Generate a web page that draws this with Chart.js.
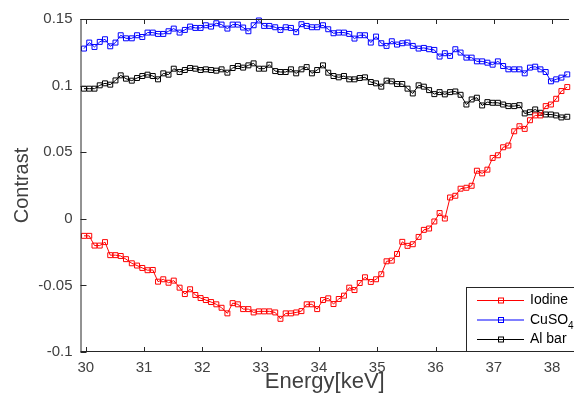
<!DOCTYPE html>
<html>
<head>
<meta charset="utf-8">
<script src="https://cdn.jsdelivr.net/npm/chart.js@4.4.1/dist/chart.umd.min.js"></script>
<style>
  body { margin: 0; background: #fff; }
  #wrap { width: 574px; height: 393px; }
</style>
</head>
<body>
<div id="wrap"><canvas id="contrastChart" width="574" height="393"></canvas></div>
<script>
// energies in keV
const energies = [
  29.97, 30.06, 30.15, 30.24, 30.33, 30.42, 30.51, 30.60, 30.69, 30.79,
  30.88, 30.97, 31.06, 31.15, 31.24, 31.33, 31.42, 31.51, 31.61, 31.70,
  31.79, 31.88, 31.97, 32.06, 32.15, 32.24, 32.33, 32.43, 32.52, 32.61,
  32.70, 32.79, 32.88, 32.97, 33.06, 33.15, 33.25, 33.34, 33.43, 33.52,
  33.61, 33.70, 33.79, 33.88, 33.97, 34.07, 34.16, 34.25, 34.34, 34.43,
  34.52, 34.61, 34.70, 34.79, 34.89, 34.98, 35.07, 35.16, 35.25, 35.34,
  35.43, 35.52, 35.61, 35.71, 35.80, 35.89, 35.98, 36.07, 36.16, 36.25,
  36.34, 36.43, 36.53, 36.62, 36.71, 36.80, 36.89, 36.98, 37.07, 37.16,
  37.25, 37.35, 37.44, 37.53, 37.62, 37.71, 37.80, 37.89, 37.98, 38.07,
  38.16, 38.26
];

const iodine = [
  -0.0128, -0.0128, -0.0201, -0.0201, -0.0175, -0.0273, -0.0273, -0.0279, -0.0303, -0.0334,
  -0.0351, -0.0369, -0.0386, -0.0384, -0.0472, -0.0454, -0.0480, -0.0464, -0.0517, -0.0565,
  -0.0529, -0.0572, -0.0595, -0.0610, -0.0625, -0.0642, -0.0668, -0.0710, -0.0633, -0.0642,
  -0.0678, -0.0678, -0.0703, -0.0695, -0.0695, -0.0695, -0.0703, -0.0751, -0.0710, -0.0710,
  -0.0703, -0.0693, -0.0642, -0.0642, -0.0678, -0.0610, -0.0597, -0.0640, -0.0602, -0.0577,
  -0.0517, -0.0535, -0.0482, -0.0439, -0.0474, -0.0454, -0.0416, -0.0319, -0.0314, -0.0264,
  -0.0173, -0.0203, -0.0191, -0.0136, -0.0083, -0.0073, -0.0020, 0.0043, 0.0002, 0.0160,
  0.0173, 0.0226, 0.0233, 0.0248, 0.0361, 0.0341, 0.0369, 0.0457, 0.0477, 0.0537,
  0.0550, 0.0657, 0.0695, 0.0675, 0.0740, 0.0776, 0.0776, 0.0846, 0.0858, 0.0901,
  0.0959, 0.0989
];

const cuso4 = [
  0.1278, 0.1323, 0.1290, 0.1328, 0.1348, 0.1295, 0.1323, 0.1378, 0.1355, 0.1355,
  0.1378, 0.1365, 0.1398, 0.1398, 0.1388, 0.1388, 0.1408, 0.1428, 0.1398, 0.1418,
  0.1443, 0.1433, 0.1433, 0.1453, 0.1443, 0.1468, 0.1458, 0.1428, 0.1458, 0.1458,
  0.1436, 0.1408, 0.1453, 0.1489, 0.1448, 0.1448, 0.1438, 0.1418, 0.1438, 0.1433,
  0.1401, 0.1461, 0.1448, 0.1438, 0.1438, 0.1453, 0.1423, 0.1393, 0.1398, 0.1398,
  0.1388, 0.1353, 0.1378, 0.1378, 0.1323, 0.1368, 0.1318, 0.1298, 0.1333, 0.1308,
  0.1318, 0.1323, 0.1298, 0.1278, 0.1283, 0.1273, 0.1268, 0.1218, 0.1243, 0.1223,
  0.1273, 0.1248, 0.1210, 0.1210, 0.1182, 0.1182, 0.1172, 0.1157, 0.1182, 0.1147,
  0.1122, 0.1122, 0.1122, 0.1092, 0.1135, 0.1142, 0.1122, 0.1102, 0.1032, 0.1047,
  0.1060, 0.1084
];

const alBar = [
  0.0977, 0.0977, 0.0977, 0.1002, 0.1017, 0.1007, 0.1039, 0.1077, 0.1052, 0.1037,
  0.1057, 0.1072, 0.1082, 0.1072, 0.1047, 0.1092, 0.1082, 0.1127, 0.1102, 0.1117,
  0.1132, 0.1127, 0.1117, 0.1122, 0.1117, 0.1112, 0.1122, 0.1097, 0.1132, 0.1147,
  0.1135, 0.1152, 0.1167, 0.1127, 0.1127, 0.1157, 0.1109, 0.1102, 0.1102, 0.1122,
  0.1092, 0.1122, 0.1139, 0.1092, 0.1117, 0.1152, 0.1097, 0.1072, 0.1062, 0.1072,
  0.1047, 0.1047, 0.1057, 0.1062, 0.1027, 0.1017, 0.0992, 0.1037, 0.1032, 0.1012,
  0.1012, 0.0977, 0.0941, 0.1002, 0.0992, 0.0966, 0.0936, 0.0951, 0.0934, 0.0951,
  0.0956, 0.0931, 0.0858, 0.0896, 0.0909, 0.0851, 0.0876, 0.0871, 0.0871, 0.0858,
  0.0846, 0.0846, 0.0853, 0.0791, 0.0800, 0.0821, 0.0796, 0.0783, 0.0783, 0.0776,
  0.0761, 0.0766
];

const seriesNames = ['Iodine', 'CuSO4', 'Al bar'];
const xTickValues = [30, 31, 32, 33, 34, 35, 36, 37, 38];
const xTickLabels = ['30', '31', '32', '33', '34', '35', '36', '37', '38'];
const yTickValues = [-0.1, -0.05, 0, 0.05, 0.1, 0.15];
const yTickLabels = ['-0.1', '-0.05', '0', '0.05', '0.1', '0.15'];

const FONT = '"Liberation Sans", Arial, Helvetica, sans-serif';
const AXIS = '#262626';
const TEXT = '#404040';

function toPoints(values) {
    return energies.map((e, i) => ({ x: e, y: values[i] }));
}

function makeSeries(label, values, color) {
    return {
        label: label,
        data: toPoints(values),
        borderColor: color,
        backgroundColor: 'rgba(0,0,0,0)',
        borderWidth: 1,
        pointStyle: 'rect',
        pointRadius: 3.5,
        pointBorderWidth: 1,
        pointBorderColor: color,
        pointBackgroundColor: 'rgba(0,0,0,0)',
        tension: 0,
        clip: false
    };
}

// MATLAB-like box: inward ticks, top line
const boxTicks = {
    id: 'boxTicks',
    afterDatasetsDraw(chart) {
        const { ctx, chartArea: a, scales: { x, y } } = chart;
        ctx.save();
        ctx.strokeStyle = AXIS;
        ctx.lineWidth = 1;
        ctx.beginPath();
        ctx.moveTo(a.left, a.top + 0.5);
        ctx.lineTo(a.right, a.top + 0.5);
        ctx.moveTo(a.left + 0.5, a.top);
        ctx.lineTo(a.left + 0.5, a.bottom);
        ctx.moveTo(a.left, a.bottom - 0.5);
        ctx.lineTo(a.right, a.bottom - 0.5);
        x.ticks.forEach(t => {
            const px = Math.round(x.getPixelForValue(t.value)) + 0.5;
            ctx.moveTo(px, a.bottom);
            ctx.lineTo(px, a.bottom - 5);
            ctx.moveTo(px, a.top);
            ctx.lineTo(px, a.top + 5);
        });
        y.ticks.forEach(t => {
            const py = Math.round(y.getPixelForValue(t.value)) + 0.5;
            ctx.moveTo(a.left, py);
            ctx.lineTo(a.left + 6, py);
        });
        ctx.stroke();
        ctx.restore();
    }
};

// legend box in the lower right corner of the axes
const boxLegend = {
    id: 'boxLegend',
    afterDraw(chart) {
        const { ctx, chartArea: a } = chart;
        const left = 466.5, top = 287.5;
        ctx.save();
        ctx.fillStyle = '#fff';
        ctx.fillRect(left, top, a.right - left + 10, a.bottom - top);
        ctx.strokeStyle = AXIS;
        ctx.lineWidth = 1;
        ctx.strokeRect(left, top, a.right - left + 10, a.bottom - top - 0.5);

        chart.data.datasets.forEach((ds, i) => {
            const yy = 300.5 + i * 19.5;
            ctx.strokeStyle = ds.borderColor;
            ctx.beginPath();
            ctx.moveTo(477, yy);
            ctx.lineTo(524, yy);
            ctx.stroke();
            ctx.strokeRect(498.5, yy - 2.5, 5, 5);

            ctx.fillStyle = '#000';
            ctx.textBaseline = 'middle';
            ctx.textAlign = 'left';
            const m = ds.label.match(/^(.*?)(\d+)$/);
            ctx.font = '14px ' + FONT;
            if (m) {
                ctx.fillText(m[1], 530, yy);
                const w = ctx.measureText(m[1]).width;
                ctx.font = '10px ' + FONT;
                ctx.fillText(m[2], 530 + w, yy + 6);
            } else {
                ctx.fillText(ds.label, 530, yy);
            }
        });
        ctx.restore();
    }
};

const canvas = document.getElementById('contrastChart');
new Chart(canvas.getContext('2d'), {
    type: 'line',
    data: {
        datasets: [
            makeSeries(seriesNames[0], iodine, '#ff0000'),
            makeSeries(seriesNames[1], cuso4, '#0000ff'),
            makeSeries(seriesNames[2], alBar, '#000000')
        ]
    },
    options: {
        responsive: false,
        animation: false,
        layout: { padding: { top: 19, left: 0, right: 0, bottom: 0 } },
        plugins: {
            legend: { display: false },
            tooltip: { enabled: false }
        },
        scales: {
            x: {
                type: 'linear',
                min: 29.91,
                max: 38.29,
                grid: { display: false, drawTicks: false },
                border: { display: false },
                afterFit: s => { s.height = 41; },
                afterBuildTicks: s => { s.ticks = xTickValues.map(v => ({ value: v })); },
                ticks: {
                    padding: 7,
                    color: TEXT,
                    font: { family: FONT, size: 15 },
                    callback: (v) => xTickLabels[xTickValues.indexOf(v)]
                },
                title: {
                    display: true,
                    text: 'Energy[keV]',
                    color: TEXT,
                    font: { family: FONT, size: 22, lineHeight: 1 },
                    padding: { top: 0, bottom: 0 }
                }
            },
            y: {
                min: -0.1,
                max: 0.15,
                grid: { display: false, drawTicks: false },
                border: { display: false },
                afterFit: s => { s.width = 80.5; },
                afterBuildTicks: s => { s.ticks = yTickValues.map(v => ({ value: v })); },
                ticks: {
                    padding: 8,
                    color: TEXT,
                    font: { family: FONT, size: 15 },
                    callback: (v) => yTickLabels[yTickValues.indexOf(v)]
                },
                title: {
                    display: true,
                    text: 'Contrast',
                    color: TEXT,
                    font: { family: FONT, size: 20, lineHeight: 1 },
                    padding: { top: 12, bottom: 0 }
                }
            }
        }
    },
    plugins: [boxTicks, boxLegend]
});
</script>
</body>
</html>
